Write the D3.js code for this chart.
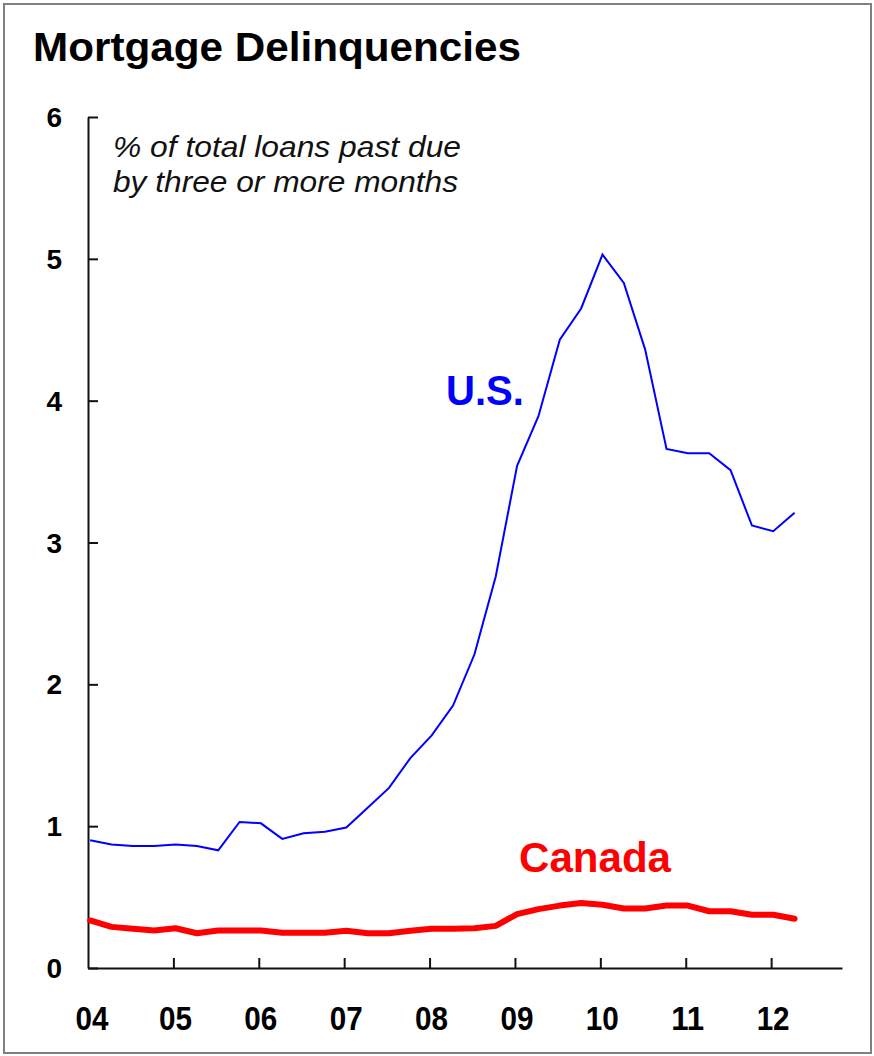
<!DOCTYPE html>
<html>
<head>
<meta charset="utf-8">
<script src="https://cdn.jsdelivr.net/npm/d3@7/dist/d3.min.js"></script>
<style>
  html, body { margin: 0; padding: 0; background: #fff; }
  svg { display: block; }
  text { font-family: "Liberation Sans", Arial, Helvetica, sans-serif; }
</style>
</head>
<body>
<svg id="chart" width="874" height="1056"></svg>
<script>
// ---- Data ----
const quarters = [
  "2004Q1","2004Q2","2004Q3","2004Q4",
  "2005Q1","2005Q2","2005Q3","2005Q4",
  "2006Q1","2006Q2","2006Q3","2006Q4",
  "2007Q1","2007Q2","2007Q3","2007Q4",
  "2008Q1","2008Q2","2008Q3","2008Q4",
  "2009Q1","2009Q2","2009Q3","2009Q4",
  "2010Q1","2010Q2","2010Q3","2010Q4",
  "2011Q1","2011Q2","2011Q3","2011Q4",
  "2012Q1","2012Q2"
];
const usValues = [
  0.90, 0.87, 0.86, 0.86,
  0.87, 0.86, 0.83, 1.03,
  1.02, 0.91, 0.95, 0.96,
  0.99, 1.13, 1.27, 1.48,
  1.64, 1.85, 2.21, 2.76,
  3.54, 3.89, 4.43, 4.65,
  5.03, 4.83, 4.36, 3.66,
  3.63, 3.63, 3.51, 3.12,
  3.08, 3.21
];
const canadaValues = [
  0.335, 0.29, 0.276, 0.264,
  0.28, 0.245, 0.264, 0.264,
  0.264, 0.248, 0.248, 0.248,
  0.262, 0.245, 0.245, 0.262,
  0.276, 0.276, 0.28, 0.297,
  0.38, 0.415, 0.44, 0.458,
  0.446, 0.42, 0.42, 0.44,
  0.44, 0.40, 0.40, 0.375,
  0.375, 0.347
];
const yearTicks = [2004, 2005, 2006, 2007, 2008, 2009, 2010, 2011, 2012];
const yearLabels = ["04", "05", "06", "07", "08", "09", "10", "11", "12"];
const yTicks = [0, 1, 2, 3, 4, 5, 6];

const title = "Mortgage Delinquencies";
const subtitleLines = ["% of total loans past due", "by three or more months"];

// ---- Layout ----
const svg = d3.select("#chart");
const x = d3.scaleLinear().domain([2004, 2012.83]).range([88, 842]);
const y = d3.scaleLinear().domain([0, 6]).range([968, 117]);

function qToYear(q) {
  const yr = +q.slice(0, 4);
  const qq = +q.slice(5);
  return yr + (qq - 1) / 4 + 0.025;
}

// frame
svg.append("rect")
  .attr("x", 4).attr("y", 4).attr("width", 867).attr("height", 1049)
  .attr("fill", "none").attr("stroke", "#808080").attr("stroke-width", 2);

// title
svg.append("text")
  .attr("x", 33).attr("y", 61)
  .attr("font-size", 40).attr("font-weight", "bold")
  .attr("textLength", 488).attr("lengthAdjust", "spacingAndGlyphs")
  .attr("fill", "#000")
  .text(title);

// subtitle
svg.selectAll("text.sub").data(subtitleLines).enter().append("text")
  .attr("class", "sub")
  .attr("x", 113).attr("y", (d, i) => 157 + i * 35)
  .attr("font-size", 29).attr("font-style", "italic")
  .attr("textLength", (d, i) => i === 0 ? 348 : 345)
  .attr("lengthAdjust", "spacingAndGlyphs")
  .attr("fill", "#111")
  .text(d => d);

// axes
const xAxis = d3.axisBottom(x).tickValues(yearTicks.slice(1)).tickSizeInner(-10).tickSizeOuter(0).tickFormat("");
const gx = svg.append("g").attr("transform", `translate(0,${y(0)})`).call(xAxis);
gx.select(".domain").attr("stroke", "#111").attr("stroke-width", 2);
gx.selectAll(".tick line").attr("stroke", "#111").attr("stroke-width", 2);

const yAxis = d3.axisLeft(y).tickValues(yTicks).tickSizeInner(-10).tickSizeOuter(0).tickFormat("");
const gy = svg.append("g").attr("transform", `translate(${x(2004)},0)`).call(yAxis);
gy.select(".domain").attr("stroke", "#111").attr("stroke-width", 2);
gy.selectAll(".tick line").attr("stroke", "#111").attr("stroke-width", 2);

// x labels
svg.selectAll("text.xl").data(yearTicks).enter().append("text")
  .attr("class", "xl")
  .attr("x", (d) => x(d) + (d === 2004 ? 4 : 2))
  .attr("y", 1030)
  .attr("text-anchor", "middle")
  .attr("font-size", 33).attr("font-weight", "bold")
  .attr("textLength", 33).attr("lengthAdjust", "spacingAndGlyphs")
  .attr("fill", "#000")
  .text((d, i) => yearLabels[i]);

// y labels
svg.selectAll("text.yl").data(yTicks).enter().append("text")
  .attr("class", "yl")
  .attr("x", 62)
  .attr("y", d => y(d))
  .attr("dy", "0.36em")
  .attr("text-anchor", "end")
  .attr("font-size", 28).attr("font-weight", "bold")
  .attr("fill", "#000")
  .text(d => d);

// lines
const line = d3.line()
  .x((d, i) => x(qToYear(quarters[i])))
  .y(d => y(d));

svg.append("path").datum(canadaValues)
  .attr("d", line)
  .attr("fill", "none").attr("stroke", "#ff0000").attr("stroke-width", 6)
  .attr("stroke-linejoin", "round").attr("stroke-linecap", "round");

svg.append("path").datum(usValues)
  .attr("d", line)
  .attr("fill", "none").attr("stroke", "#0000ff").attr("stroke-width", 2)
  .attr("stroke-linejoin", "miter");

// series labels
svg.append("text")
  .attr("x", 446).attr("y", 405)
  .attr("font-size", 43).attr("font-weight", "bold")
  .attr("textLength", 78).attr("lengthAdjust", "spacingAndGlyphs")
  .attr("fill", "#0000ff")
  .text("U.S.");

svg.append("text")
  .attr("x", 519).attr("y", 872)
  .attr("font-size", 42).attr("font-weight", "bold")
  .attr("textLength", 152).attr("lengthAdjust", "spacingAndGlyphs")
  .attr("fill", "#ff0000")
  .text("Canada");
</script>
</body>
</html>
